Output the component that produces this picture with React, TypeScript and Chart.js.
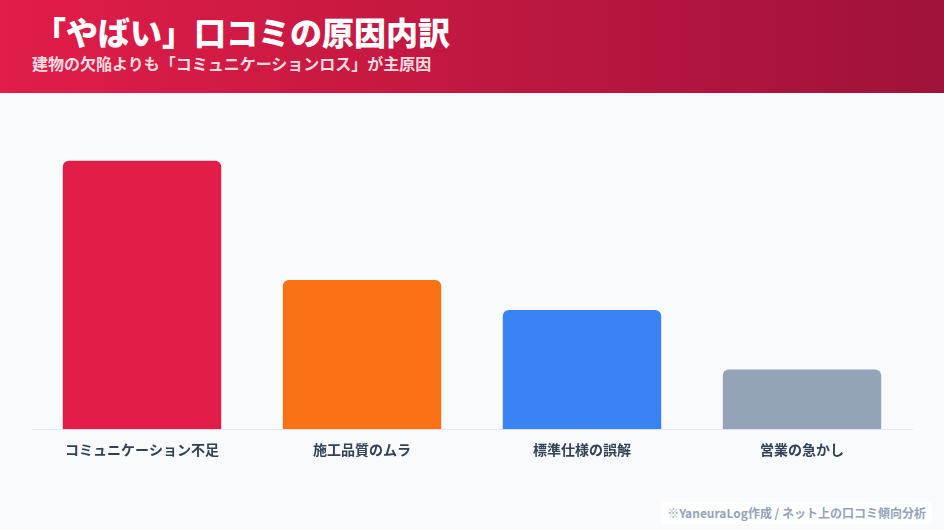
import React, { useEffect, useRef } from "react";
import { Chart, registerables } from "chart.js";

Chart.register(...registerables);

const categories = ["コミュニケーション不足", "施工品質のムラ", "標準仕様の誤解", "営業の急かし"];
const values = [45, 25, 20, 10];
const barColors = ["#e11d48", "#f97316", "#3b82f6", "#94a3b8"];

const FONT = "'Noto Sans CJK JP', 'Noto Sans', sans-serif";

export default function App() {
  const ref = useRef<HTMLCanvasElement | null>(null);

  useEffect(() => {
    document.body.style.margin = "0";
    const canvas = ref.current;
    if (!canvas) return;
    const chart = new Chart(canvas, {
      type: "bar",
      data: {
        labels: categories,
        datasets: [
          {
            data: values,
            backgroundColor: barColors,
            borderRadius: { topLeft: 6, topRight: 6, bottomLeft: 0, bottomRight: 0 },
            borderSkipped: "bottom",
            categoryPercentage: 0.8,
            barPercentage: 0.9,
          },
        ],
      },
      options: {
        animation: false,
        responsive: true,
        maintainAspectRatio: false,
        layout: { padding: { left: 32, right: 32, top: 38, bottom: 0 } },
        plugins: { legend: { display: false }, tooltip: { enabled: false } },
        scales: {
          x: {
            grid: { display: false, drawTicks: false },
            border: { display: true, color: "#e2e8f0", width: 1 },
            ticks: {
              color: "#334155",
              padding: 12,
              font: { family: FONT, size: 14, weight: "bold" },
            },
          },
          y: {
            display: false,
            min: 0,
            max: 50,
          },
        },
      },
    });
    return () => chart.destroy();
  }, []);

  return (
    <div
      style={{
        position: "relative",
        width: 944,
        height: 530,
        background: "#f8fafc",
        overflow: "hidden",
        fontFamily: FONT,
      }}
    >
      <div
        style={{
          position: "absolute",
          left: 0,
          top: 0,
          width: 944,
          height: 93,
          background: "linear-gradient(90deg, #e11d48 0%, #9f1239 100%)",
        }}
      >
        <div
          style={{
            position: "absolute",
            left: 34,
            top: 8,
            color: "#ffffff",
            fontSize: 32,
            fontWeight: 900,
            lineHeight: "46px",
            whiteSpace: "nowrap",
          }}
        >
          「やばい」口コミの原因内訳
        </div>
        <div
          style={{
            position: "absolute",
            left: 32,
            top: 52,
            color: "rgba(255,255,255,0.86)",
            fontSize: 16,
            fontWeight: 700,
            lineHeight: "22px",
            whiteSpace: "nowrap",
          }}
        >
          建物の欠陥よりも「コミュニケーションロス」が主原因
        </div>
      </div>
      <div style={{ position: "absolute", left: 0, top: 93, width: 944, height: 377 }}>
        <canvas ref={ref} />
      </div>
      <div
        style={{
          position: "absolute",
          right: 12,
          bottom: 6,
          background: "rgba(255,255,255,0.9)",
          borderRadius: 4,
          padding: "2px 6px",
          color: "#94a3b8",
          fontSize: 12,
          fontWeight: 700,
          lineHeight: "18px",
          whiteSpace: "nowrap",
        }}
      >
        ※YaneuraLog作成 / ネット上の口コミ傾向分析
      </div>
    </div>
  );
}
